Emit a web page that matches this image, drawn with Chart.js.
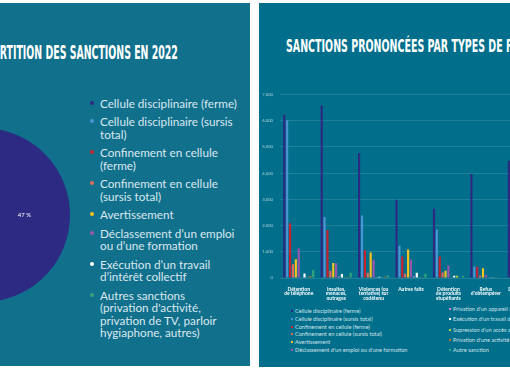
<!DOCTYPE html>
<html lang="fr">
<head>
<meta charset="utf-8">
<script src="https://cdn.jsdelivr.net/npm/chart.js@4.4.0/dist/chart.umd.min.js"></script>
<style>
html, body { margin: 0; padding: 0; width: 510px; height: 370px; overflow: hidden; background: #fff; }
.slide { position: absolute; top: 3px; overflow: hidden; }
#left { left: 0; width: 250px; height: 363px; background: #11718d; }
#right { left: 259px; width: 300px; height: 364px; background: #016f8c; }
.title { position: absolute; white-space: nowrap; color: #fff; font-family: "DejaVu Sans Condensed", "DejaVu Sans", sans-serif; font-weight: bold; line-height: 1; transform-origin: 0 0; }
#t1 { top: 39.8px; font-size: 19px; }
#t2 { top: 34.2px; font-size: 17.8px; }
#pieBox { position: absolute; left: -104px; top: 125px; width: 174px; height: 174px; }
#pieLegend { position: absolute; left: 88px; top: 93.5px; width: 160px; font-family: Lato, sans-serif; font-size: 11.7px; line-height: 12.4px; color: #dbe7ee; }
#pieLegend .item { position: relative; padding-left: 12px; margin-bottom: 6.2px; white-space: nowrap; }
#pieLegend .dot { position: absolute; left: 2px; top: 4.3px; width: 4px; height: 4px; border-radius: 50%; }
#barBox { position: absolute; left: 0; top: 82px; width: 283px; height: 217px; }
.barLegend { position: absolute; font-family: Lato, sans-serif; font-size: 5.6px; color: #cfe0e8; white-space: nowrap; }
.barLegend .item { position: relative; padding-left: 4px; }
.barLegend .sq { position: absolute; left: 0; width: 2px; height: 2px; }
#legA { left: 32px; top: 303.8px; line-height: 7.86px; }
#legA .sq { top: 3px; }
#legB { left: 190px; top: 301.2px; line-height: 10.2px; }
#legB .sq { top: 4.1px; }
</style>
</head>
<body>
<div class="slide" id="left">
  <div class="title" id="t1"></div>
  <div id="pieBox"><canvas id="pie"></canvas></div>
  <div id="pieLegend"></div>
</div>
<div class="slide" id="right">
  <div class="title" id="t2"></div>
  <div id="barBox"><canvas id="bars"></canvas></div>
  <div class="barLegend" id="legA"></div>
  <div class="barLegend" id="legB"></div>
</div>
<script>
// left slide: share of each sanction (%)
const pieNames = [
    ["Cellule disciplinaire (ferme)"],
    ["Cellule disciplinaire (sursis", "total)"],
    ["Confinement en cellule", "(ferme)"],
    ["Confinement en cellule", "(sursis total)"],
    ["Avertissement"],
    ["Déclassement d’un emploi", "ou d’une formation"],
    ["Exécution d’un travail", "d’intérêt collectif"],
    ["Autres sanctions", "(privation d'activité,", "privation de TV, parloir", "hygiaphone, autres)"]
];
const pieShares = [47, 24, 12, 2, 7, 6, 1, 1];
const pieColors = ['#2d2a84', '#4b95d6', '#c9202e', '#dd6b5f', '#f4c31c', '#9857a8', '#ffffff', '#34a57a'];

// right slide: sanctions by type of fault
const faults = [
    ["Détention", "de téléphone"],
    ["Insultes,", "menaces,", "outrages"],
    ["Violences (ou", "tentative) sur", "codétenu"],
    ["Autres faits"],
    ["Détention", "de produits", "stupéfiants"],
    ["Refus", "d'obtempérer"],
    ["Dégradations"]
];
const yTicks = [0, 1000, 2000, 3000, 4000, 5000, 6000, 7000];

// only the first bar of the last group is visible in the picture
const celluleFerme   = [6230, 6580, 4770, 2990, 2640, 3960, 4460];
const celluleSursis  = [6020, 2330, 2385, 1235, 1850, 440, null];
const confinFerme    = [2090, 1835, 1060, 825, 820, 425, null];
const confinSursis   = [525, 270, 200, 160, 210, 90, null];
const avertissement  = [720, 575, 975, 1085, 275, 375, null];
const declassement   = [1130, 560, 700, 710, 475, 110, null];
const privAppareil   = [30, 60, 40, 60, 30, 10, null];
const travail        = [175, 150, 50, 200, 90, 25, null];
const suppAcces      = [30, 30, 30, 30, 85, 10, null];
const privActivite   = [75, 40, 50, 30, 20, 25, null];
const autreSanction  = [300, 200, 100, 160, 80, 15, null];

const series = [
    { label: "Cellule disciplinaire (ferme)", data: celluleFerme, color: '#2d2a84' },
    { label: "Cellule disciplinaire (sursis total)", data: celluleSursis, color: '#4b95d6' },
    { label: "Confinement en cellule (ferme)", data: confinFerme, color: '#c9202e' },
    { label: "Confinement en cellule (sursis total)", data: confinSursis, color: '#dd6b5f' },
    { label: "Avertissement", data: avertissement, color: '#f4c31c' },
    { label: "Déclassement d'un emploi ou d'une formation", data: declassement, color: '#9857a8' },
    { label: "Privation d'un appareil acheté ou loué", data: privAppareil, color: '#d28ad8' },
    { label: "Exécution d'un travail de nettoyage", data: travail, color: '#ffffff' },
    { label: "Supression d'un accès aux activités", data: suppAcces, color: '#b8d23a' },
    { label: "Privation d'une activité", data: privActivite, color: '#b9742c' },
    { label: "Autre sanction", data: autreSanction, color: '#34a57a' }
];

Chart.defaults.font.family = 'Lato, sans-serif';

function fitTitle(id, font, text, skip, keep, x0, width) {
    // squeeze the title so that `keep` covers `width` px from x0
    const el = document.getElementById(id);
    el.textContent = text;
    const c = document.createElement('canvas').getContext('2d');
    c.font = font;
    const s = width / c.measureText(keep).width;
    el.style.left = (x0 - c.measureText(skip).width * s) + 'px';
    el.style.transform = 'scaleX(' + s + ')';
}
fitTitle('t1', 'bold 19px "DejaVu Sans Condensed"', 'RÉPARTITION DES SANCTIONS EN 2022', 'RÉPA', 'RTITION DES SANCTIONS EN 2022', 0, 178);
fitTitle('t2', 'bold 17.8px "DejaVu Sans Condensed"', 'SANCTIONS PRONONCÉES PAR TYPES DE FAUTES', '', 'SANCTIONS PRONONCÉES PAR TYPES DE ', 26.7, 220);

// pie legend
const pieLegend = document.getElementById('pieLegend');
pieNames.forEach(function (lines, i) {
    const item = document.createElement('div');
    item.className = 'item';
    item.innerHTML = '<span class="dot" style="background:' + pieColors[i] + '"></span>' + lines.join('<br>');
    pieLegend.appendChild(item);
});

const pieLabels = {
    id: 'pieLabels',
    afterDatasetsDraw(chart) {
        const ctx = chart.ctx;
        chart.getDatasetMeta(0).data.forEach(function (arc, i) {
            const p = arc.tooltipPosition();
            ctx.save();
            ctx.fillStyle = '#fff';
            ctx.font = '6px Lato';
            ctx.textAlign = 'center';
            ctx.textBaseline = 'middle';
            ctx.fillText(pieShares[i] + ' %', p.x - 2, p.y);
            ctx.restore();
        });
    }
};

new Chart(document.getElementById('pie'), {
    type: 'pie',
    data: {
        labels: pieNames.map(function (l) { return l.join(' '); }),
        datasets: [{ data: pieShares, backgroundColor: pieColors, borderWidth: 0 }]
    },
    options: {
        responsive: true,
        maintainAspectRatio: false,
        animation: false,
        rotation: 5.4,
        layout: { padding: 0 },
        plugins: { legend: { display: false }, tooltip: { enabled: false } }
    },
    plugins: [pieLabels]
});

// bar chart
new Chart(document.getElementById('bars'), {
    type: 'bar',
    data: {
        labels: faults,
        datasets: series.map(function (s) {
            return { label: s.label, data: s.data, backgroundColor: s.color, categoryPercentage: 0.85, barPercentage: 0.75 };
        })
    },
    options: {
        responsive: true,
        maintainAspectRatio: false,
        animation: false,
        layout: { padding: { top: 9, left: 0, right: 0, bottom: 0 } },
        plugins: { legend: { display: false }, tooltip: { enabled: false } },
        scales: {
            x: {
                grid: { display: false },
                border: { display: false },
                ticks: { color: '#ffffff', font: { size: 5, weight: 'bold', lineHeight: 0.9 }, padding: 1, maxRotation: 0, autoSkip: false },
                afterFit: function (scale) { scale.height = 24; }
            },
            y: {
                min: 0,
                max: 7000,
                afterBuildTicks: function (scale) { scale.ticks = yTicks.map(function (v) { return { value: v }; }); },
                grid: { color: 'rgba(255,255,255,0.12)', drawTicks: false },
                border: { display: false },
                ticks: { color: 'rgba(255,255,255,0.65)', font: { size: 4.2 }, padding: 7 },
                afterFit: function (scale) { scale.width = 21; }
            }
        }
    }
});

// bar legend, two columns
function fillLegend(id, list) {
    const box = document.getElementById(id);
    list.forEach(function (s) {
        const item = document.createElement('div');
        item.className = 'item';
        item.innerHTML = '<span class="sq" style="background:' + s.color + '"></span>' + s.label;
        box.appendChild(item);
    });
}
fillLegend('legA', series.slice(0, 6));
fillLegend('legB', series.slice(6));
</script>
</body>
</html>
